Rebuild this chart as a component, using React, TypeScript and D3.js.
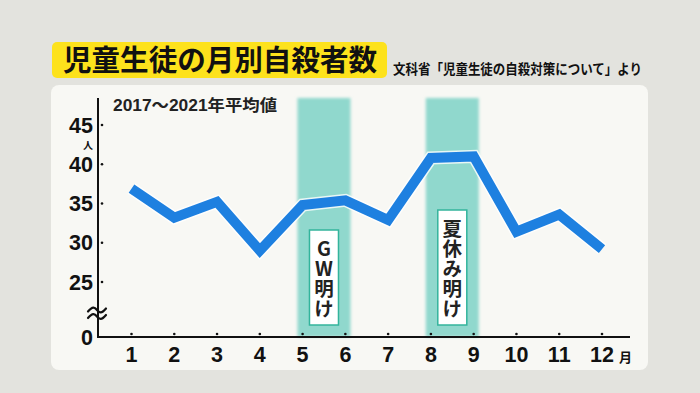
import React from "react";
import * as d3 from "d3";

const months = [1, 2, 3, 4, 5, 6, 7, 8, 9, 10, 11, 12];
const values = [36.9, 33.2, 35.2, 29.0, 34.8, 35.4, 32.9, 40.8, 41.0, 31.4, 33.6, 29.2];
const yTicks = [25, 30, 35, 40, 45];
const bands = [
  { from: 5, to: 6, label: "GW明け" },
  { from: 8, to: 9, label: "夏休み明け" },
];
const title = "児童生徒の月別自殺者数";
const source = "文科省「児童生徒の自殺対策について」より";
const periodLabel = "2017～2021年平均値";

const W = 700;
const H = 393;
const JP = "'Noto Sans CJK JP', sans-serif";
const NUM = "'Liberation Sans', Arial, 'Noto Sans CJK JP', sans-serif";

function wave(cx: number, cy: number, w: number) {
  const h = w / 2;
  return `M${cx - h},${cy + 1.5} C${cx - h / 2},${cy - 4} ${cx - h / 4},${cy - 3} ${cx},${cy} S${cx + h / 2},${cy + 4} ${cx + h},${cy - 1.5}`;
}

export default function App() {
  const x = d3.scaleLinear().domain([1, 12]).range([131.5, 602]);
  const y = d3.scaleLinear().domain([25, 45]).range([282, 125]);
  const axisX = 98;
  const baseY = 337;
  const line = d3
    .line<number>()
    .x((_, i) => x(months[i]))
    .y((d) => y(d));
  const path = line(values) || "";

  return (
    <div style={{ position: "fixed", left: 0, top: 0, width: W, height: H }}>
      <svg width={W} height={H} viewBox={`0 0 ${W} ${H}`} style={{ display: "block" }}>
        <defs>
          <filter id="blurBand" x="-20%" y="-5%" width="140%" height="110%">
            <feGaussianBlur stdDeviation="1.6" />
          </filter>
        </defs>
        <rect x={0} y={0} width={W} height={H} fill="#e3e3de" />
        {/* title */}
        <rect x={52} y={42} width={335} height={36} rx={5} fill="#fde21c" />
        <text x={63} y={71} fontFamily={JP} fontWeight={700} fontSize={29} fill="#111" textLength={314} lengthAdjust="spacingAndGlyphs">
          {title}
        </text>
        <text x={393} y={74} fontFamily={JP} fontWeight={700} fontSize={14} fill="#111" textLength={249} lengthAdjust="spacingAndGlyphs">
          {source}
        </text>
        {/* panel */}
        <rect x={51} y={85} width={597} height={285} rx={8} fill="#f8f8f4" />
        {/* bands */}
        {bands.map((b, i) => {
          const cx = (x(b.from) + x(b.to)) / 2;
          const bw = 53;
          return (
            <rect key={i} x={cx - bw / 2} y={98} width={bw} height={baseY - 98} fill="#90d8cd" filter="url(#blurBand)" />
          );
        })}
        {/* period label */}
        <text x={113} y={111} fontFamily={NUM} fontWeight={700} fontSize={16} fill="#222" textLength={164} lengthAdjust="spacingAndGlyphs">
          {periodLabel}
        </text>
        {/* axes */}
        <line x1={axisX} x2={axisX} y1={98} y2={baseY} stroke="#111" strokeWidth={2} />
        <line x1={axisX - 1} x2={630} y1={baseY} y2={baseY} stroke="#111" strokeWidth={2} />
        {yTicks.map((t) => (
          <g key={t}>
            <circle cx={axisX + 4} cy={y(t)} r={1.3} fill="#111" />
            <text x={93} y={y(t) + 7.5} textAnchor="end" fontFamily={NUM} fontWeight={700} fontSize={21.5} fill="#111">
              {t}
            </text>
          </g>
        ))}
        <text x={88} y={149} textAnchor="middle" fontFamily={JP} fontWeight={700} fontSize={10} fill="#111">
          人
        </text>
        <text x={87} y={345} textAnchor="middle" fontFamily={NUM} fontWeight={700} fontSize={21.5} fill="#111">
          0
        </text>
        <path d={wave(axisX - 1, 310, 18)} fill="none" stroke="#111" strokeWidth={2.2} strokeLinecap="round" />
        <path d={wave(axisX - 1, 316.5, 18)} fill="none" stroke="#111" strokeWidth={2.2} strokeLinecap="round" />
        {months.map((m) => (
          <g key={m}>
            <circle cx={x(m)} cy={baseY - 3} r={1.3} fill="#111" />
            <text x={x(m)} y={362} textAnchor="middle" fontFamily={NUM} fontWeight={700} fontSize={21.5} fill="#111">
              {m}
            </text>
          </g>
        ))}
        <text x={619} y={362} fontFamily={JP} fontWeight={700} fontSize={13} fill="#111">
          月
        </text>
        {/* line */}
        <path d={path} fill="none" stroke="#ffffff" strokeOpacity={0.8} strokeWidth={13} strokeLinejoin="miter" strokeLinecap="butt" />
        <path d={path} fill="none" stroke="#1e80e0" strokeWidth={10} strokeLinejoin="miter" strokeLinecap="butt" />
        {/* band labels */}
        {bands.map((b, i) => {
          const cx = (x(b.from) + x(b.to)) / 2;
          const n = Array.from(b.label).length;
          const step = 20;
          const bottom = 325;
          const lastC = bottom - 16;
          const firstC = lastC - (n - 1) * step;
          const top = firstC - 19;
          return (
            <g key={i}>
              <rect x={cx - 14.5} y={top} width={29} height={bottom - top} fill="#ffffff" stroke="#33b49c" strokeWidth={1.5} />
              <text
                x={cx}
                y={firstC - step / 2}
                fontFamily={JP}
                fontWeight={700}
                fontSize={19.5}
                fill="#222"
                letterSpacing={0.5}
                style={{ writingMode: "vertical-rl", textOrientation: "upright" } as React.CSSProperties}
              >
                {b.label}
              </text>
            </g>
          );
        })}
      </svg>
    </div>
  );
}
